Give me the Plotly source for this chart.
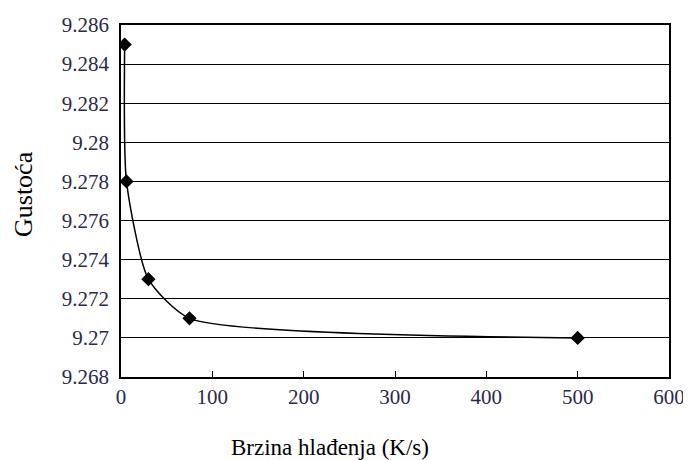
import plotly.graph_objects as go

rates = [4, 6, 30, 75, 500]
density = [9.285, 9.278, 9.273, 9.271, 9.270]
y_ticks = [9.268, 9.270, 9.272, 9.274, 9.276, 9.278, 9.280, 9.282, 9.284, 9.286]
y_tick_labels = ["9.268", "9.27", "9.272", "9.274", "9.276", "9.278", "9.28", "9.282", "9.284", "9.286"]
x_ticks = [0, 100, 200, 300, 400, 500, 600]

FONT = "Liberation Serif, Times New Roman, DejaVu Serif, serif"

fig = go.Figure()
fig.add_trace(go.Scatter(
    x=rates, y=density, mode="lines+markers",
    line=dict(color="black", width=1.5, shape="spline", smoothing=0.6),
    marker=dict(symbol="diamond", size=11, color="black"),
    showlegend=False,
))

fig.update_layout(
    width=691, height=460,
    margin=dict(l=113, r=30, t=17, b=91),
    paper_bgcolor="white", plot_bgcolor="white",
    font=dict(family=FONT, color="black", size=21),
    xaxis=dict(
        range=[0, 600], tickvals=x_ticks, showgrid=False, automargin=False,
        showline=True, linecolor="black", linewidth=1.5, mirror=True,
        ticks="inside", ticklen=6, tickcolor="black", tickwidth=1.2,
        zeroline=False, tickfont=dict(family=FONT, size=21, color="#2a2a4a"),
    ),
    yaxis=dict(
        range=[9.268, 9.286], tickvals=y_ticks, ticktext=y_tick_labels,
        showgrid=True, gridcolor="black", gridwidth=1.2, automargin=False,
        showline=True, linecolor="black", linewidth=1.5, mirror=True,
        ticks="", zeroline=False, ticklabelstandoff=6,
        tickfont=dict(family=FONT, size=21, color="#2a2a4a"),
    ),
    annotations=[
        dict(
            text="Brzina hlađenja (K/s)", xref="paper", yref="paper",
            x=0.381, y=0, xanchor="center", yanchor="middle", yshift=-70,
            showarrow=False, font=dict(family=FONT, size=23, color="black"),
        ),
        dict(
            text="Gustoća", xref="paper", yref="paper", textangle=-90,
            x=0, y=0.5, xanchor="center", yanchor="middle", xshift=-98, yshift=7,
            showarrow=False, font=dict(family=FONT, size=26, color="black"),
        ),
    ],
)

fig.write_html("out.html")
